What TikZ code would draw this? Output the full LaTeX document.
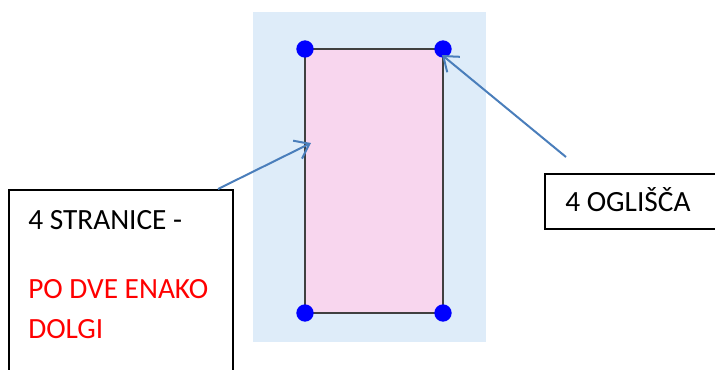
\documentclass[tikz,border=0pt]{standalone}
\usepackage{fontspec}
\setmainfont{Carlito}
\usetikzlibrary{arrows.meta}
\begin{document}
\begin{tikzpicture}[x=0.75pt,y=0.75pt,yscale=-1,xscale=1,
  vertex/.style={circle,fill={rgb, 255:red, 0; green, 0; blue, 255 },inner sep=0pt,minimum size=13pt},
  labelbox/.style={draw,line width=1.5,anchor=north west,inner sep=0pt},
  pointer/.style={color={rgb, 255:red, 74; green, 126; blue, 187 },line width=1.5,-{Straight Barb[length=10pt,width=15pt,line width=1.5]}},
  caption/.style={anchor=base west,inner sep=0pt,font=\fontsize{22}{30}\selectfont}]
\useasboundingbox (0,0) rectangle (715,369);

%Shape: Rectangle [background]
\fill [color={rgb, 255:red, 222; green, 236; blue, 249 }] (253,12) rectangle (486,342);
%Shape: Rectangle
\draw [color={rgb, 255:red, 64; green, 64; blue, 64 }, fill={rgb, 255:red, 248; green, 214; blue, 238 }, line width=1.5] (305,49) rectangle (443,313);

%Shape: Circle [corners]
\node [vertex] (tl) at (305,49) {};
\node [vertex] (tr) at (443,49) {};
\node [vertex] (bl) at (305,313) {};
\node [vertex] (br) at (443,313) {};

%Shape: Boxes
\node [labelbox,minimum width=168pt,minimum height=160pt] (sides) at (8,189) {};
\node [labelbox,minimum width=140pt,minimum height=41.5pt] (corners) at (544,172.5) {};

% Text Node
\node [caption] (sidestext) at (28,229) {4 STRANICE -};
% Text Node
\node [caption,color=red] (pairstext) at (28,298) {PO DVE ENAKO};
% Text Node
\node [caption,color=red] (longtext) at (28,338) {DOLGI};
% Text Node
\node [caption] (cornerstext) at (565,211.5) {4 OGLIŠČA};

%Straight Lines [arrows]
\coordinate (sidesfoot) at (218,189);
\coordinate (sidestip) at (311,143);
\draw [pointer] (sidesfoot) -- (sidestip);
\coordinate (cornersfoot) at (566,157);
\coordinate (cornerstip) at (442,55);
\draw [pointer] (cornersfoot) -- (cornerstip);

\end{tikzpicture}
\end{document}
